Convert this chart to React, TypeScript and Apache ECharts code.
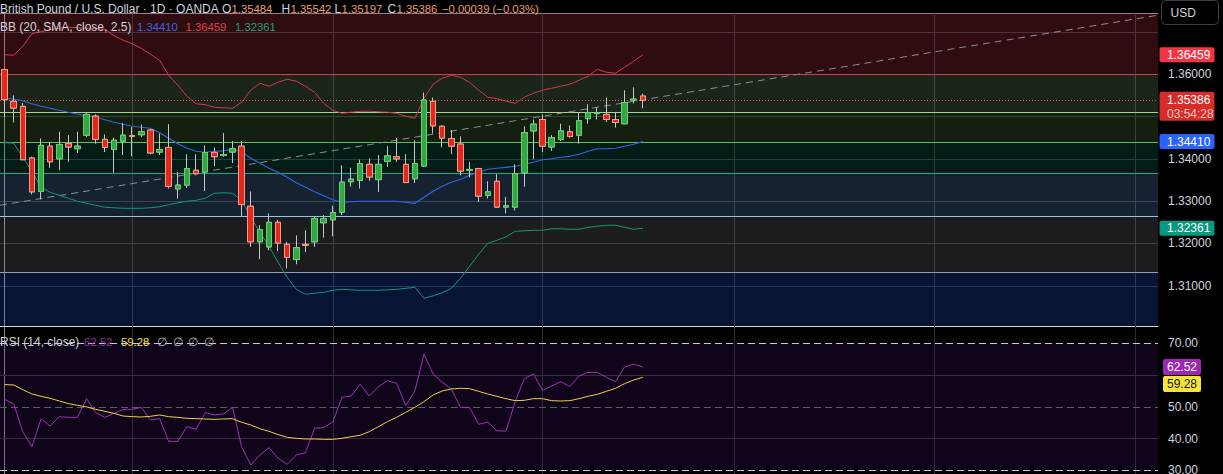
import React, { useEffect, useRef } from "react";
import * as echarts from "echarts";

// ---------- DATA ----------
const opens = [1.3611,1.3536,1.3524,1.3402,1.3323,1.3430,1.3400,1.3436,1.3424,1.3456,
1.3501,1.3446,1.3422,1.3442,1.3455,1.3457,1.3468,1.3416,1.3427,1.3329,
1.3338,1.3373,1.3369,1.3415,1.3408,1.3416,1.3430,1.3288,1.3204,1.3192,
1.3250,1.3198,1.3162,1.3198,1.3204,1.3249,1.3256,1.3274,1.3346,1.3349,
1.3387,1.3351,1.3394,1.3405,1.3387,1.3353,1.3383,1.3536,1.3477,1.3448,
1.3435,1.3373,1.3377,1.3314,1.3347,1.3286,1.3286,1.3367,1.3466,1.3493,
1.3428,1.3446,1.3464,1.3456,1.3495,1.3507,1.3505,1.3493,1.3483,1.3539,
1.35484];
const closes = [1.3540,1.3520,1.3398,1.3322,1.3432,1.3393,1.3434,1.3428,1.3430,1.3505,
1.3446,1.3427,1.3444,1.3456,1.3453,1.3464,1.3414,1.3422,1.3335,1.3338,
1.3377,1.3365,1.3415,1.3405,1.3410,1.3424,1.3292,1.3204,1.3233,1.3250,
1.3201,1.3167,1.3190,1.3196,1.3259,1.3259,1.3273,1.3345,1.3352,1.3389,
1.3357,1.3387,1.3407,1.3400,1.3344,1.3389,1.3539,1.3478,1.3449,1.3430,
1.3371,1.3375,1.3312,1.3322,1.3286,1.3289,1.3365,1.3462,1.3482,1.3430,
1.3450,1.3466,1.3453,1.3490,1.3509,1.3509,1.3493,1.3486,1.3533,1.3541,
1.35386];
const lows = [1.3499,1.3486,1.3397,1.3316,1.3304,1.3379,1.3373,1.3393,1.3414,1.3452,
1.3436,1.3416,1.3367,1.3409,1.3406,1.3452,1.3411,1.3409,1.3330,1.3306,
1.3331,1.3361,1.3324,1.3383,1.3405,1.3390,1.3265,1.3192,1.3163,1.3184,
1.3182,1.3141,1.3151,1.3180,1.3192,1.3214,1.3217,1.3267,1.3334,1.3330,
1.3348,1.3322,1.3381,1.3393,1.3343,1.3343,1.3381,1.3460,1.3427,1.3411,
1.3361,1.3356,1.3298,1.3306,1.3284,1.3271,1.3278,1.3334,1.3399,1.3416,
1.3419,1.3442,1.3450,1.3436,1.3483,1.3493,1.3487,1.3474,1.3482,1.3531,
1.35197];
const highs = [1.3613,1.3550,1.3532,1.3405,1.3448,1.3440,1.3464,1.3456,1.3464,1.3509,
1.3505,1.3458,1.3450,1.3485,1.3475,1.3481,1.3470,1.3460,1.3482,1.3369,
1.3411,1.3411,1.3432,1.3427,1.3461,1.3442,1.3442,1.3323,1.3243,1.3271,
1.3256,1.3204,1.3219,1.3231,1.3263,1.3267,1.3289,1.3385,1.3379,1.3398,
1.3401,1.3409,1.3430,1.3450,1.3411,1.3444,1.3557,1.3545,1.3479,1.3468,
1.3453,1.3393,1.3379,1.3347,1.3364,1.3310,1.3387,1.3477,1.3493,1.3505,
1.3456,1.3483,1.3479,1.3509,1.3529,1.3521,1.3545,1.3511,1.3562,1.3569,
1.35542];

const bbUpper = [1.36461,1.36449,1.36662,1.36957,1.37005,1.37052,1.37087,1.37111,1.37099,1.37087,
1.37076,1.37064,1.36910,1.36804,1.36721,1.36615,1.36473,1.36331,1.35976,1.35740,
1.35480,1.35303,1.35279,1.35220,1.35208,1.35196,1.35338,1.35622,1.35787,1.35716,
1.35811,1.35882,1.35835,1.35716,1.35574,1.35314,1.35149,1.35078,1.35102,1.35125,
1.35125,1.35113,1.35102,1.35078,1.35007,1.34960,1.35433,1.35764,1.35905,1.35976,
1.35929,1.35811,1.35622,1.35456,1.35421,1.35362,1.35314,1.35456,1.35551,1.35622,
1.35669,1.35716,1.35764,1.35858,1.35953,1.36118,1.36047,1.36024,1.36165,1.36307,
1.36459];
const bbMiddle = [1.35444,1.35409,1.35374,1.35303,1.35243,1.35196,1.35149,1.35102,1.35054,1.35019,
1.34983,1.34924,1.34865,1.34818,1.34771,1.34747,1.34723,1.34617,1.34487,1.34357,
1.34251,1.34180,1.34156,1.34180,1.34191,1.34227,1.34168,1.34014,1.33896,1.33778,
1.33683,1.33565,1.33435,1.33329,1.33222,1.33128,1.33033,1.32974,1.32986,1.32998,
1.32998,1.32998,1.32998,1.32998,1.32974,1.32950,1.33092,1.33234,1.33352,1.33447,
1.33518,1.33612,1.33683,1.33754,1.33778,1.33801,1.33825,1.33872,1.33920,1.33979,
1.34002,1.34038,1.34061,1.34109,1.34180,1.34239,1.34239,1.34251,1.34298,1.34345,
1.34410];
const bbLower = [1.34385,1.34369,1.34038,1.33707,1.33329,1.33210,1.33139,1.33069,1.32998,1.32950,
1.32903,1.32856,1.32844,1.32832,1.32832,1.32832,1.32844,1.32868,1.32915,1.32962,
1.32998,1.33021,1.33069,1.33187,1.33199,1.33187,1.33021,1.32619,1.32265,1.31934,
1.31556,1.31201,1.30917,1.30799,1.30823,1.30846,1.30894,1.30917,1.30905,1.30894,
1.30894,1.30894,1.30905,1.30917,1.30941,1.30965,1.30705,1.30764,1.30835,1.30941,
1.31177,1.31461,1.31745,1.32005,1.32076,1.32158,1.32288,1.32300,1.32312,1.32312,
1.32348,1.32348,1.32336,1.32336,1.32383,1.32407,1.32430,1.32430,1.32383,1.32336,
1.32361];

const rsi = [52.35,50.88,42.17,37.44,46.16,43.95,46.89,46.68,46.68,52.56,
48.15,46.68,47.94,49.20,49.20,49.83,45.84,46.26,39.12,39.12,
43.74,42.90,48.15,47.42,47.73,49.83,37.44,31.67,34.82,37.13,
33.77,31.88,34.82,35.55,43.22,43.43,45.21,52.98,53.40,57.08,
53.40,56.34,58.23,57.39,50.36,54.98,66.53,60.33,57.71,55.61,
49.83,49.83,44.48,45.21,42.38,42.38,51.62,58.86,60.33,55.19,
56.55,57.92,56.34,59.70,60.86,60.86,59.28,57.92,62.54,63.48,
62.52];
const rsiMA = [57.0,56.87,55.4,54.03,53.3,52.67,51.83,50.99,50.46,49.94,
49.2,48.57,47.94,47.1,46.89,46.79,47.0,47.42,46.89,46.68,
46.37,46.26,46.16,46.05,46.16,46.26,45.11,44.27,43.11,42.27,
41.22,40.38,40.07,39.86,39.86,39.75,39.75,40.07,40.59,41.01,
42.17,43.74,45.32,46.68,48.26,49.83,51.62,53.72,54.98,55.61,
55.82,55.71,54.87,54.03,53.3,52.56,51.93,52.04,52.56,52.56,
51.93,51.83,51.93,52.56,53.3,53.93,54.87,55.82,57.29,58.44,
59.28];

const zoneLevels = [1.36, 1.3509, 1.3439, 1.3365, 1.3264, 1.3131];
const trendLine = [[-0.5, 1.32903], [126.5, 1.37395]];
const monthGridIdx = [14, 36, 59, 80, 102, 124];
const priceTickLabels = [1.36, 1.34, 1.33, 1.32, 1.31];
const rsiTickLabels = [70, 50, 40, 30];
const rsiBandLevels = [70, 50, 30];
const rsiGridLevels = [60, 40];
const countdown = "03:54:28";
const headerTitle = "British Pound / U.S. Dollar \u00b7 1D \u00b7 OANDA";
const headerChange = "\u22120.00039 (\u22120.03%)";
const bbTitle = "BB (20, SMA, close, 2.5)";
const rsiTitle = "RSI (14, close)";

// ---------- LAYOUT / STYLE ----------
const SLOT_COUNT = 127;
const PRICE_MIN = 1.3005;
const PRICE_MAX = 1.3744;
const RSI_MIN = 28.83;
const RSI_MAX = 75.45;
const FONT = '"Liberation Sans", Arial, sans-serif';
const TXT = "#d1d4dc";
const GRID = "#2a2e39";
const AXIS_LINE = "#868993";
const zoneFills = [
  "rgba(230,60,80,0.2)",
  "rgba(135,185,125,0.2)",
  "rgba(95,160,75,0.2)",
  "rgba(20,140,110,0.2)",
  "rgba(110,170,235,0.2)",
  "rgba(140,140,150,0.2)",
  "rgba(35,100,255,0.2)",
];
const zoneLineColors = ["#d23f4c", "#a7d68f", "#5cbf5c", "#1fa58a", "#8fc6ef", "#9a9da6"];
const UP_FILL = "#34a644";
const UP_BORDER = "#62d26a";
const DOWN_FILL = "#e0281e";
const DOWN_BORDER = "#f59c80";
const WICK = "#c4c7cc";

const near = (v: number, list: number[]) => list.some((t) => Math.abs(v - t) < 1e-6);

function buildOption(): any {
  const slots = Array.from({ length: SLOT_COUNT }, (_, i) => String(i));
  const candleData = opens.map((o, i) => [o, closes[i], lows[i], highs[i]]);
  const bodyData = opens.map((o, i) => [o, closes[i], Math.min(o, closes[i]), Math.max(o, closes[i])]);
  const bounds = [PRICE_MAX, ...zoneLevels, PRICE_MIN];
  const zones = zoneFills.map((c, i) => [
    { yAxis: bounds[i], itemStyle: { color: c } },
    { yAxis: bounds[i + 1] },
  ]);
  const last = closes.length - 1;

  return {
    animation: false,
    backgroundColor: "#000000",
    textStyle: { fontFamily: FONT },
    grid: [
      { left: 0, right: 65, top: 13.3, height: 312.7, outerBoundsMode: "none", containLabel: false },
      { left: 0, right: 65, top: 326, height: 148, outerBoundsMode: "none", containLabel: false },
    ],
    xAxis: [
      { type: "category", gridIndex: 0, data: slots, boundaryGap: true, show: false },
      {
        type: "category", gridIndex: 1, data: slots, boundaryGap: true, position: "top",
        axisLine: { show: true, lineStyle: { color: "#d6d8de", width: 1 } },
        axisTick: { show: false }, axisLabel: { show: false }, splitLine: { show: false },
      },
      {
        type: "value", gridIndex: 0, min: -0.5, max: SLOT_COUNT - 0.5, position: "top",
        axisLine: { show: true, lineStyle: { color: AXIS_LINE, width: 1 } },
        axisTick: { show: false }, axisLabel: { show: false }, splitLine: { show: false },
      },
      { type: "value", gridIndex: 1, min: -0.5, max: SLOT_COUNT - 0.5, show: false },
    ],
    yAxis: [
      {
        type: "value", gridIndex: 0, position: "right", min: PRICE_MIN, max: PRICE_MAX, splitNumber: 7,
        axisLine: { show: true, lineStyle: { color: AXIS_LINE } },
        axisTick: { show: false },
        axisLabel: {
          color: TXT, fontSize: 12, fontFamily: FONT, margin: 10,
          formatter: (v: number) => (near(v, priceTickLabels) ? v.toFixed(5) : ""),
        },
        splitLine: { show: true, lineStyle: { color: GRID, width: 1 } },
      },
      {
        type: "value", gridIndex: 1, position: "right", min: RSI_MIN, max: RSI_MAX, splitNumber: 5,
        axisLine: { show: true, lineStyle: { color: AXIS_LINE } },
        axisTick: { show: false },
        axisLabel: {
          color: TXT, fontSize: 12, fontFamily: FONT, margin: 10,
          formatter: (v: number) => (near(v, rsiTickLabels) ? v.toFixed(2) : ""),
        },
        splitLine: { show: false },
      },
    ],
    series: [
      {
        type: "line", name: "zones", xAxisIndex: 0, yAxisIndex: 0, data: [], silent: true,
        markArea: { silent: true, z: 1, data: zones },
        markLine: {
          silent: true, z: 1.6, precision: 6, symbol: ["none", "none"], label: { show: false },
          data: [
            ...zoneLevels.map((v, i) => ({ yAxis: v, lineStyle: { color: zoneLineColors[i], width: 1, type: "solid" } })),
            { yAxis: closes[last], lineStyle: { color: "#e0563c", width: 1, type: [1, 2] } },
          ],
        },
      },
      {
        type: "line", name: "trend", xAxisIndex: 2, yAxisIndex: 0, data: trendLine, symbol: "none",
        silent: true, z: 2, lineStyle: { color: "#8a8d96", width: 1, type: [7, 5] },
        markLine: {
          silent: true, z: 0.5, precision: 6, symbol: ["none", "none"], label: { show: false },
          lineStyle: { color: GRID, width: 1, type: "solid" },
          data: monthGridIdx.map((v) => ({ xAxis: v })),
        },
      },
      { type: "line", name: "bbUpper", xAxisIndex: 0, yAxisIndex: 0, data: bbUpper, symbol: "none", silent: true, z: 2, lineStyle: { color: "#d13b4b", width: 1 } },
      { type: "line", name: "bbMiddle", xAxisIndex: 0, yAxisIndex: 0, data: bbMiddle, symbol: "none", silent: true, z: 2, lineStyle: { color: "#3066e8", width: 1.2 } },
      { type: "line", name: "bbLower", xAxisIndex: 0, yAxisIndex: 0, data: bbLower, symbol: "none", silent: true, z: 2, lineStyle: { color: "#14957c", width: 1 } },
      {
        type: "candlestick", name: "wick", xAxisIndex: 0, yAxisIndex: 0, data: candleData, barWidth: 6, silent: true, z: 3,
        itemStyle: { color: WICK, color0: WICK, borderColor: WICK, borderColor0: WICK, borderWidth: 1 },
      },
      {
        type: "candlestick", name: "body", xAxisIndex: 0, yAxisIndex: 0, data: bodyData, barWidth: 6, silent: true, z: 4,
        itemStyle: { color: UP_FILL, color0: DOWN_FILL, borderColor: UP_BORDER, borderColor0: DOWN_BORDER, borderWidth: 1 },
      },
      {
        type: "line", name: "rsiBand", xAxisIndex: 1, yAxisIndex: 1, data: [], silent: true,
        markArea: { silent: true, z: 1, data: [[{ yAxis: rsiBandLevels[2], itemStyle: { color: "rgba(80,20,130,0.2)" } }, { yAxis: rsiBandLevels[0] }]] },
        markLine: {
          silent: true, z: 1.6, precision: 4, symbol: ["none", "none"], label: { show: false },
          data: [
            { yAxis: rsiBandLevels[0], lineStyle: { color: "#c9cbd1", width: 1, type: [7, 4] } },
            { yAxis: rsiBandLevels[1], lineStyle: { color: "#5e5a68", width: 1, type: [7, 4] } },
            { yAxis: rsiBandLevels[2], lineStyle: { color: "#c9cbd1", width: 1, type: [7, 4] } },
            ...rsiGridLevels.map((v) => ({ yAxis: v, lineStyle: { color: "#352d40", width: 1, type: "solid" } })),
          ],
        },
      },
      {
        type: "line", name: "rsiGrid", xAxisIndex: 3, yAxisIndex: 1, data: [], silent: true,
        markLine: {
          silent: true, z: 0.5, precision: 6, symbol: ["none", "none"], label: { show: false },
          lineStyle: { color: GRID, width: 1, type: "solid" },
          data: monthGridIdx.map((v) => ({ xAxis: v })),
        },
      },
      { type: "line", name: "rsi", xAxisIndex: 1, yAxisIndex: 1, data: rsi, symbol: "none", silent: true, z: 3, lineStyle: { color: "#a032b6", width: 1 } },
      { type: "line", name: "rsiMA", xAxisIndex: 1, yAxisIndex: 1, data: rsiMA, symbol: "none", silent: true, z: 3, lineStyle: { color: "#ecd24a", width: 1 } },
    ],
  };
}

function txt(x: number, y: number, text: string, fill: string, size = 12) {
  return {
    type: "text", x, y, z: 100, silent: true,
    style: { text, fill, fontSize: size, fontFamily: FONT, verticalAlign: "middle", align: "left" },
  };
}

function buildGraphics(chart: any) {
  const last = closes.length - 1;
  const py = (v: number) => chart.convertToPixel({ yAxisIndex: 0 }, v) as number;
  const ry = (v: number) => chart.convertToPixel({ yAxisIndex: 1 }, v) as number;
  const els: any[] = [];
  const box = (x: number, y: number, w: number, h: number, fill: string) =>
    els.push({ type: "rect", z: 99, silent: true, shape: { x, y, width: w, height: h, r: 2 }, style: { fill } });

  // header
  const ov = "#ef9d6b";
  const hy = 9;
  const vs = 11.3;
  els.push(txt(0, hy, headerTitle, TXT));
  els.push(txt(222, hy, "O", TXT));
  els.push(txt(231.5, hy, opens[last].toFixed(5), ov, vs));
  els.push(txt(281.5, hy, "H", TXT));
  els.push(txt(290.5, hy, highs[last].toFixed(5), ov, vs));
  els.push(txt(334.5, hy, "L", TXT));
  els.push(txt(341.5, hy, lows[last].toFixed(5), ov, vs));
  els.push(txt(387.5, hy, "C", TXT));
  els.push(txt(396.5, hy, closes[last].toFixed(5), ov, vs));
  els.push(txt(442, hy, headerChange, ov, vs));
  // BB legend
  els.push(txt(0, 26.5, bbTitle, TXT));
  els.push(txt(137, 26.5, bbMiddle[last].toFixed(5), "#3a66e6", vs));
  els.push(txt(185.5, 26.5, bbUpper[last].toFixed(5), "#e0404f", vs));
  els.push(txt(235, 26.5, bbLower[last].toFixed(5), "#22a07f", vs));
  // RSI legend
  els.push(txt(0, 342, rsiTitle, TXT));
  els.push(txt(84, 342, rsi[last].toFixed(2), "#8c2ea0", vs));
  els.push(txt(121, 342, rsiMA[last].toFixed(2), "#f2e04a", vs));
  [157, 172.5, 188, 203.5].forEach((x) => els.push(txt(x, 342, "\u2205", "#b2b5be")));

  // USD box
  els.push({ type: "rect", z: 99, silent: true, shape: { x: 1161.5, y: 0.5, width: 57, height: 24, r: 4 }, style: { fill: "#000", stroke: "#3d404a", lineWidth: 1 } });
  els.push(txt(1170.5, 12.5, "USD", TXT));

  // price boxes
  const up = py(bbUpper[last]);
  box(1159.5, up - 7.5, 55, 15, "#f23645");
  els.push(txt(1167, up, bbUpper[last].toFixed(5), "#ffffff"));

  const lp = py(closes[last]);
  box(1159.5, lp - 8.5, 55, 29, "#d62d2a");
  els.push(txt(1167, lp, closes[last].toFixed(5), "#ffffff"));
  els.push(txt(1167, lp + 13.5, countdown, "#f7c4c0"));

  const mp = py(bbMiddle[last]);
  box(1159.5, mp - 7.5, 55, 15, "#2962ff");
  els.push(txt(1167, mp, bbMiddle[last].toFixed(5), "#ffffff"));

  const lo = py(bbLower[last]);
  box(1159.5, lo - 7.5, 55, 15, "#089981");
  els.push(txt(1167, lo, bbLower[last].toFixed(5), "#ffffff"));

  // RSI boxes
  const r1 = ry(rsi[last]);
  box(1163, r1 - 8, 38, 16, "#9c27b0");
  els.push(txt(1167, r1, rsi[last].toFixed(2), "#ffffff"));
  const r2 = Math.max(ry(rsiMA[last]), r1 + 17);
  box(1163, r2 - 8, 38, 16, "#f5e33b");
  els.push(txt(1167, r2, rsiMA[last].toFixed(2), "#131722"));

  return els;
}

export default function App() {
  const ref = useRef<HTMLDivElement>(null);
  useEffect(() => {
    document.body.style.margin = "0";
    document.body.style.background = "#000";
    const chart = echarts.init(ref.current as HTMLDivElement, null, { renderer: "svg" });
    chart.setOption(buildOption());
    chart.setOption({ graphic: buildGraphics(chart) });
    return () => chart.dispose();
  }, []);
  return <div ref={ref} style={{ width: 1223, height: 474, background: "#000" }} />;
}
